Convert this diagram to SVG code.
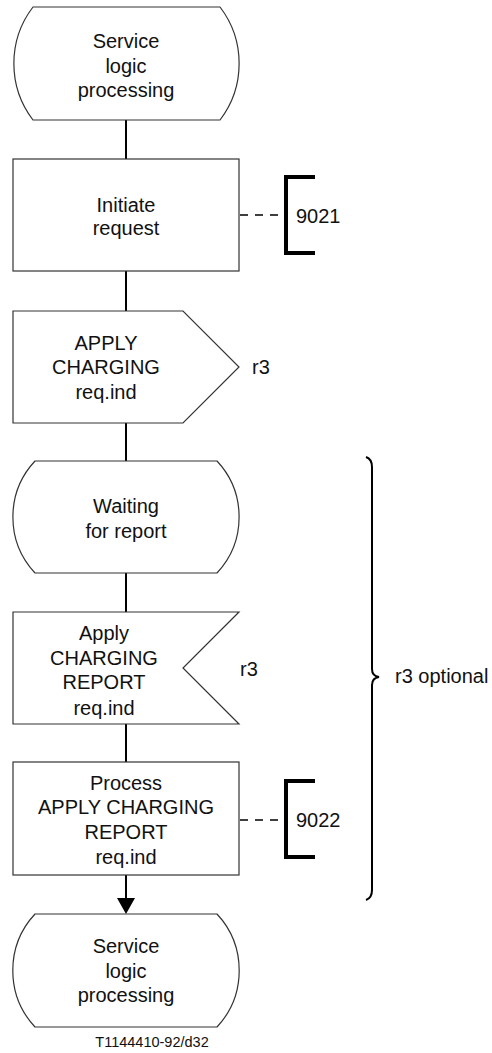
<svg xmlns="http://www.w3.org/2000/svg" width="492" height="1053" viewBox="0 0 492 1053">
<style>
.shape{fill:#fff;stroke:#333;stroke-width:1.2}
.conn{stroke:#000;stroke-width:2;fill:none}
.dash{stroke:#000;stroke-width:1.6;stroke-dasharray:8 7;fill:none}
.brk{stroke:#000;stroke-width:4;fill:none}
.brace{stroke:#000;stroke-width:2;fill:none}
text{font-family:"Liberation Sans",Arial,sans-serif;font-size:20px;fill:#111}
.c{text-anchor:middle}
.small{font-size:14.5px}
</style>
<rect width="492" height="1053" fill="#fff"/>
<g id="connectors">
<line class="conn" x1="126" y1="120" x2="126" y2="159"/>
<line class="conn" x1="126" y1="271" x2="126" y2="311"/>
<line class="conn" x1="126" y1="423" x2="126" y2="461"/>
<line class="conn" x1="126" y1="573" x2="126" y2="612"/>
<line class="conn" x1="126" y1="724" x2="126" y2="762"/>
<line class="conn" x1="126" y1="875" x2="126" y2="899"/>
<polygon points="117,898 135,898 126,914" fill="#000"/>
<line class="dash" x1="240" y1="215" x2="286" y2="215"/>
<line class="dash" x1="240" y1="820" x2="286" y2="820"/>
</g>
<g id="start">
<path class="shape" d="M33,7 H220 A93 93 0 0 1 220,120 H33 A93 93 0 0 1 33,7 Z"/>
<text class="c" x="126" y="48">Service</text>
<text class="c" x="126" y="73">logic</text>
<text class="c" x="126" y="97">processing</text>
</g>
<g id="initiate">
<rect class="shape" x="13" y="159" width="226" height="112"/>
<text class="c" x="126" y="212">Initiate</text>
<text class="c" x="126" y="235">request</text>
</g>
<g id="ref9021">
<path class="brk" d="M315,177 H286 V253 H315"/>
<text x="296" y="223">9021</text>
</g>
<g id="apply-charging">
<path class="shape" d="M13,311 H183 L239,367 L183,423 H13 Z"/>
<text class="c" x="106" y="350">APPLY</text>
<text class="c" x="106" y="374">CHARGING</text>
<text class="c" x="106" y="399">req.ind</text>
<text x="252" y="374">r3</text>
</g>
<g id="waiting">
<path class="shape" d="M35,461 H217 A82 82 0 0 1 217,573 H35 A82 82 0 0 1 35,461 Z"/>
<text class="c" x="126" y="513">Waiting</text>
<text class="c" x="126" y="538">for report</text>
</g>
<g id="apply-report">
<path class="shape" d="M13,612 H239 L183,668 L239,724 H13 Z"/>
<text class="c" x="104" y="640">Apply</text>
<text class="c" x="104" y="665">CHARGING</text>
<text class="c" x="104" y="689">REPORT</text>
<text class="c" x="104" y="715">req.ind</text>
<text x="240" y="676">r3</text>
</g>
<g id="process">
<rect class="shape" x="13" y="762" width="226" height="113"/>
<text class="c" x="126" y="790">Process</text>
<text class="c" x="126" y="814">APPLY CHARGING</text>
<text class="c" x="126" y="839">REPORT</text>
<text class="c" x="126" y="864">req.ind</text>
</g>
<g id="ref9022">
<path class="brk" d="M315,781 H286 V857 H315"/>
<text x="296" y="827">9022</text>
</g>
<g id="end">
<path class="shape" d="M35,914 H217 A83 83 0 0 1 217,1027 H35 A83 83 0 0 1 35,914 Z"/>
<text class="c" x="126" y="953">Service</text>
<text class="c" x="126" y="978">logic</text>
<text class="c" x="126" y="1002">processing</text>
</g>
<g id="optional">
<path class="brace" d="M366,457 Q372,459 372,467 V669 Q372,676 379,677 Q372,678 372,685 V890 Q372,898 366,900"/>
<text x="395" y="683">r3 optional</text>
</g>
<text class="small c" x="152" y="1047">T1144410-92/d32</text>
</svg>
